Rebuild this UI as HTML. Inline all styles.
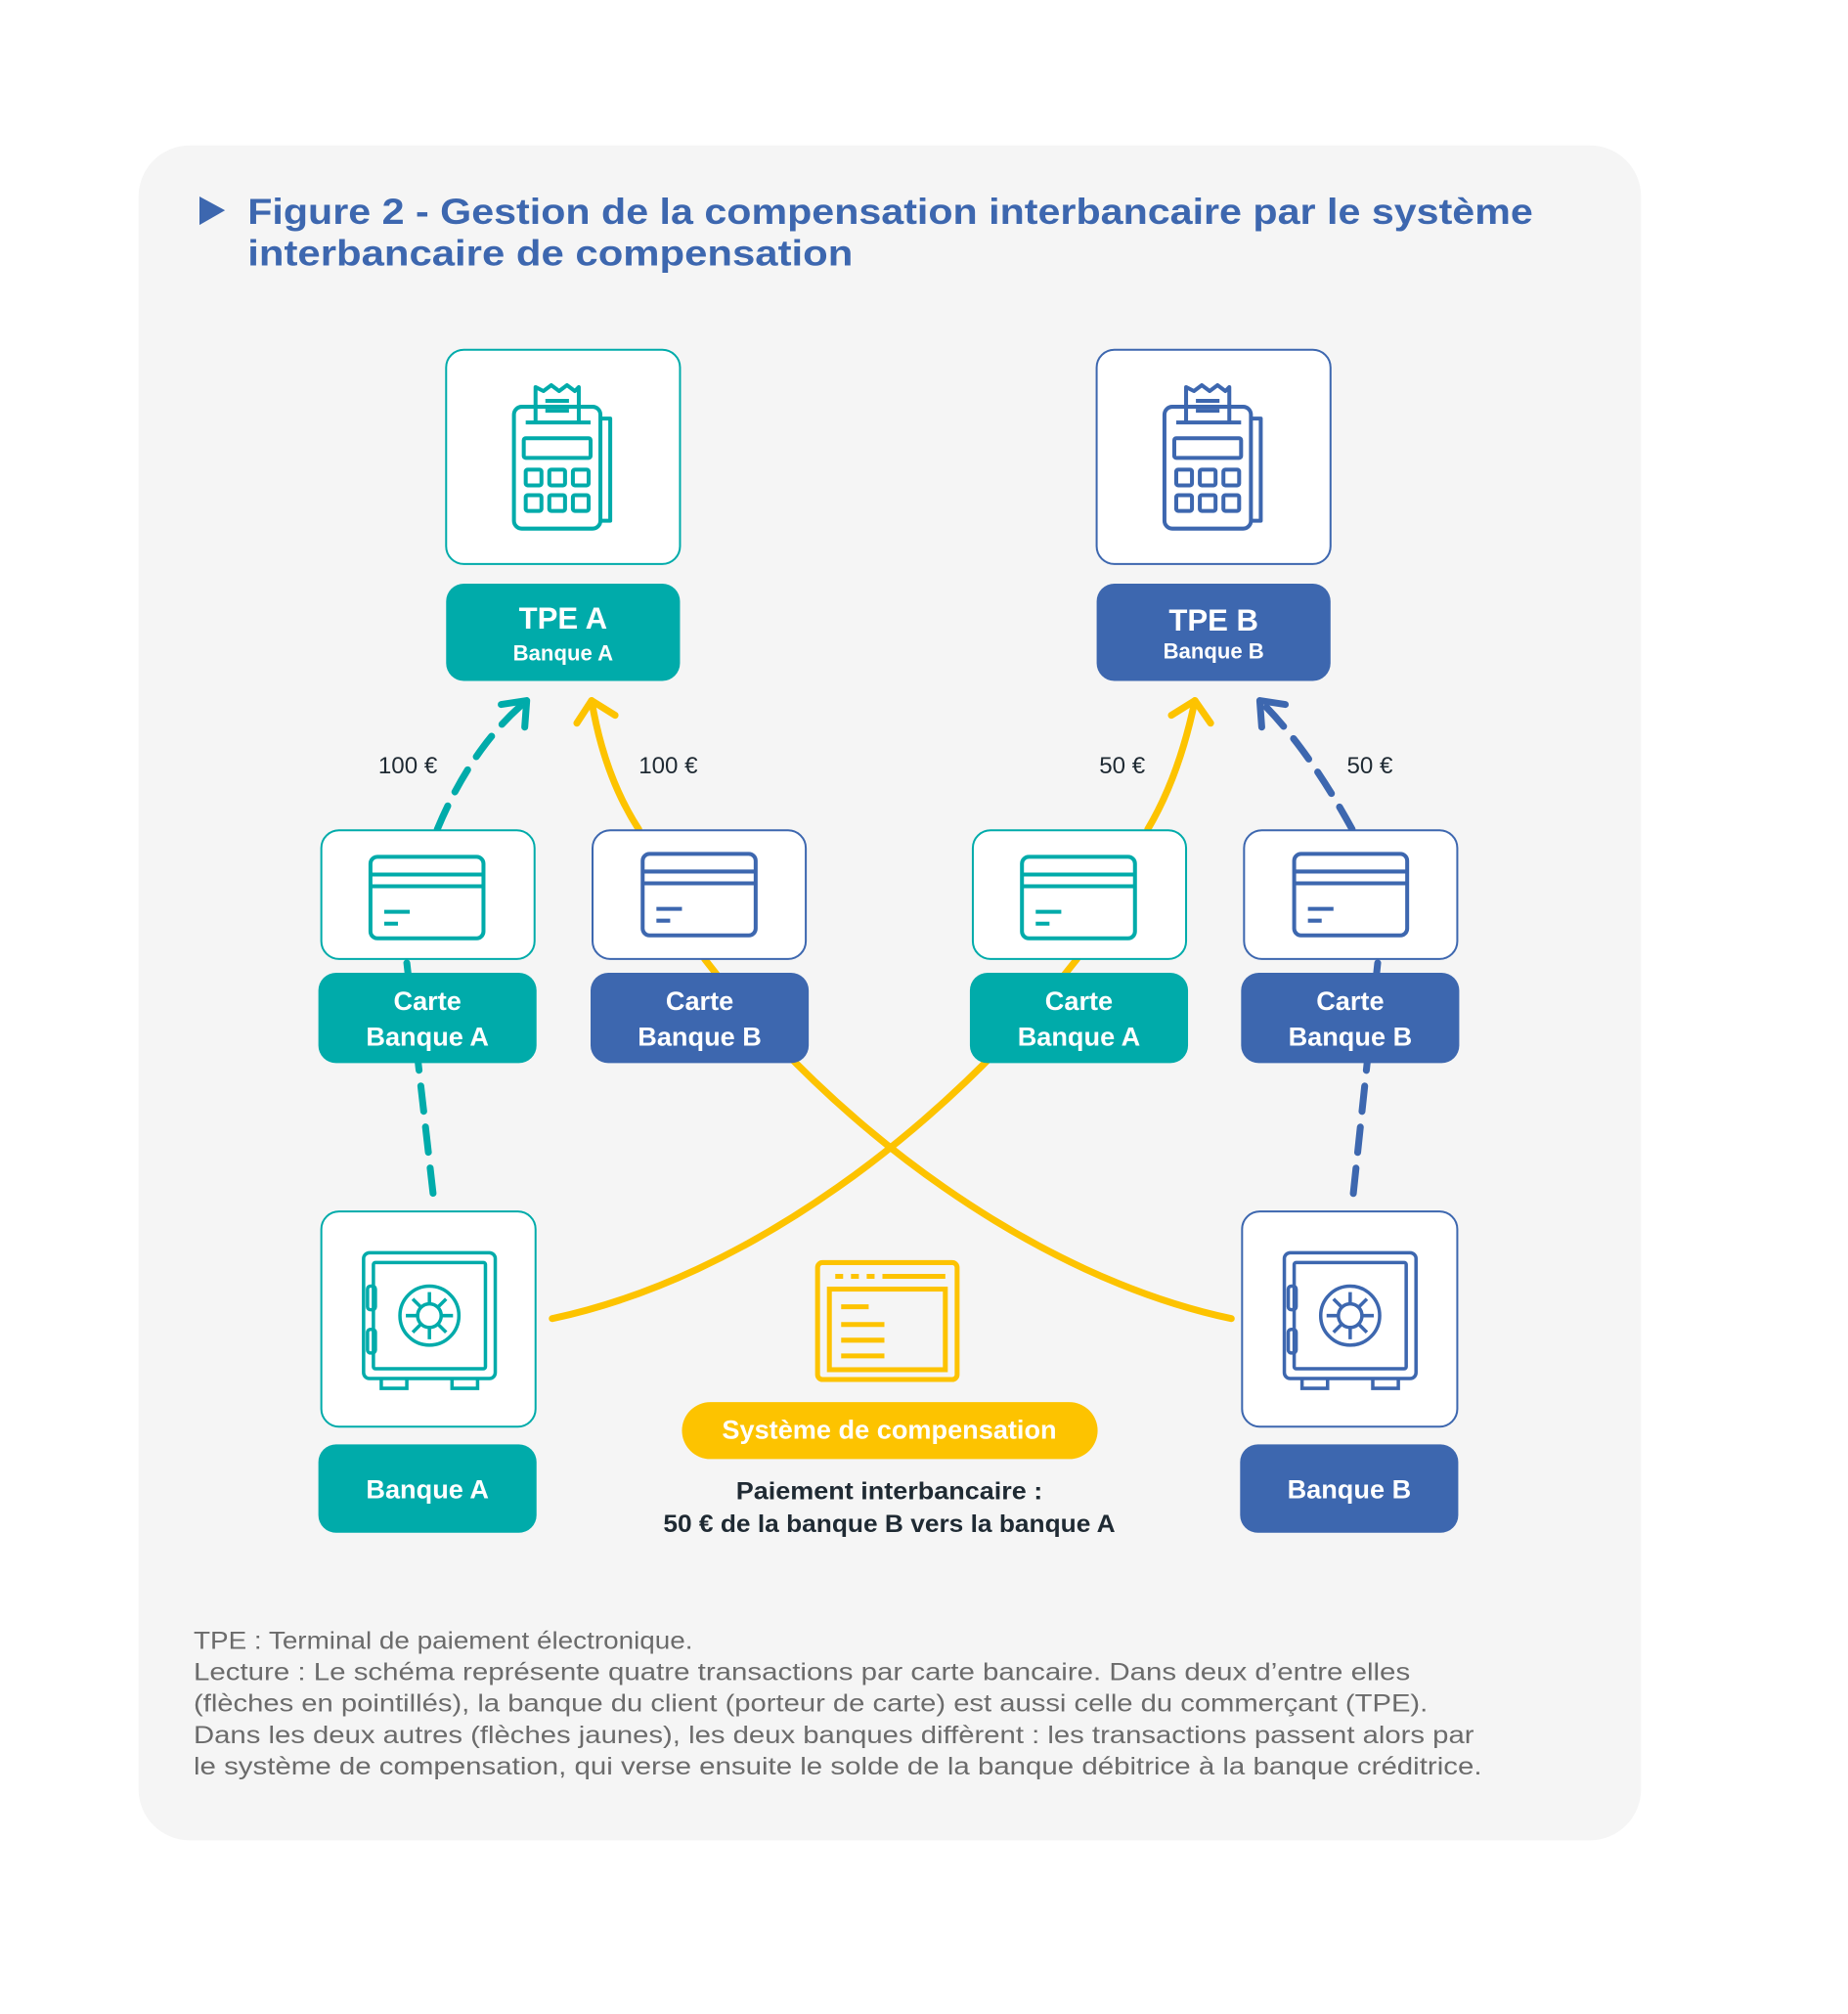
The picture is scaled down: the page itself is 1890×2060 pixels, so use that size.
<!DOCTYPE html>
<html><head><meta charset="utf-8"><style>
html,body{margin:0;padding:0;background:#fff}
svg{display:block}
text{font-family:"Liberation Sans",sans-serif}
</style></head><body>
<svg width="1890" height="2060" viewBox="0 0 1890 2060" xmlns="http://www.w3.org/2000/svg">
<defs>
<g id="term" fill="none" stroke-width="4" stroke-linejoin="round">
<rect x="0" y="24" width="88" height="124" rx="8"/>
<path d="M88 36 H98 V140 H88"/>
<rect x="10" y="56" width="68" height="20" rx="2"/>
<rect x="12" y="88" width="16" height="16" rx="2"/><rect x="36" y="88" width="16" height="16" rx="2"/><rect x="60" y="88" width="16" height="16" rx="2"/>
<rect x="12" y="114" width="16" height="16" rx="2"/><rect x="36" y="114" width="16" height="16" rx="2"/><rect x="60" y="114" width="16" height="16" rx="2"/>
<path d="M22 40 V4 L30 8 L38 2 L46 8 L54 2 L62 8 L66 4 V40"/>
<path d="M12 40 H78 M32 18 H56 M32 28 H56"/>
</g>
<g id="card" fill="none" stroke-width="4">
<rect x="0" y="0" width="115" height="83" rx="7"/>
<path d="M0 18 H115 M0 30 H115 M14 56 H40 M14 68 H28"/>
</g>
<g id="safe" fill="none" stroke-width="3.5">
<rect x="0" y="0" width="134" height="128" rx="6"/>
<rect x="10" y="10" width="114" height="108" rx="2"/>
<circle cx="67" cy="64" r="30"/><circle cx="67" cy="64" r="12"/>
<path d="M67 40 V52 M67 76 V88 M43 64 H55 M79 64 H91 M50 47 L58 55 M76 73 L84 81 M84 47 L76 55 M58 73 L50 81"/>
<rect x="4" y="34" width="8" height="24" rx="3"/><rect x="4" y="78" width="8" height="24" rx="3"/>
<path d="M18 128 V138 H44 V128 M90 128 V138 H116 V128"/>
</g>
</defs>
<g transform="scale(1.005)">
<rect x="141" y="148" width="1529" height="1725" rx="52" fill="#f5f5f5"/>
<polygon points="203,200 229,214 203,229" fill="#3d67af"/>
<text x="252" y="228" font-size="37" font-weight="bold" fill="#3d67af" textLength="1308" lengthAdjust="spacingAndGlyphs">Figure 2 - Gestion de la compensation interbancaire par le système</text>
<text x="252" y="270" font-size="37" font-weight="bold" fill="#3d67af" textLength="616" lengthAdjust="spacingAndGlyphs">interbancaire de compensation</text>

<g fill="none" stroke-width="7" stroke-linecap="round" stroke-linejoin="round">
<path d="M445 844 Q480 760 536 713" stroke="#00abaa" stroke-dasharray="26 16"/>
<polyline points="510,717 536,713 534,740" stroke="#00abaa"/>
<path d="M650 844 Q615 790 602 713" stroke="#fdc300"/>
<polyline points="587,736 602,713 626,728" stroke="#fdc300"/>
<path d="M1168 844 Q1200 790 1216 713" stroke="#fdc300"/>
<polyline points="1192,728 1216,713 1232,736" stroke="#fdc300"/>
<path d="M1376 844 Q1330 760 1282 713" stroke="#3d67af" stroke-dasharray="26 16"/>
<polyline points="1284,740 1282,713 1308,717" stroke="#3d67af"/>
<path d="M414 980 L442 1226" stroke="#00abaa" stroke-dasharray="26 16"/>
<path d="M1402 980 L1376 1226" stroke="#3d67af" stroke-dasharray="26 16"/>
<path d="M562 1342 C760 1300 960 1150 1096 976" stroke="#fdc300"/>
<path d="M1253 1342 C1055 1300 850 1150 717 976" stroke="#fdc300"/>
</g>

<rect x="454" y="356" width="238" height="218" rx="18" fill="#fff" stroke="#00abaa" stroke-width="2"/>
<rect x="1116" y="356" width="238" height="218" rx="18" fill="#fff" stroke="#3d67af" stroke-width="2"/>
<rect x="454" y="594" width="238" height="99" rx="18" fill="#00abaa"/>
<rect x="1116" y="594" width="238" height="99" rx="18" fill="#3d67af"/>
<g fill="#fff" font-weight="bold" text-anchor="middle">
<text x="573" y="640" font-size="31">TPE A</text>
<text x="573" y="672" font-size="22">Banque A</text>
<text x="1235" y="642" font-size="31">TPE B</text>
<text x="1235" y="670" font-size="22">Banque B</text>
</g>
<use href="#term" x="523" y="390" stroke="#00abaa"/>
<use href="#term" x="1185" y="390" stroke="#3d67af"/>

<rect x="327" y="845" width="217" height="131" rx="18" fill="#fff" stroke="#00abaa" stroke-width="2"/>
<rect x="603" y="845" width="217" height="131" rx="18" fill="#fff" stroke="#3d67af" stroke-width="2"/>
<rect x="990" y="845" width="217" height="131" rx="18" fill="#fff" stroke="#00abaa" stroke-width="2"/>
<rect x="1266" y="845" width="217" height="131" rx="18" fill="#fff" stroke="#3d67af" stroke-width="2"/>
<use href="#card" x="377" y="872" stroke="#00abaa"/>
<use href="#card" x="654" y="869" stroke="#3d67af"/>
<use href="#card" x="1040" y="872" stroke="#00abaa"/>
<use href="#card" x="1317" y="869" stroke="#3d67af"/>
<rect x="324" y="990" width="222" height="92" rx="18" fill="#00abaa"/>
<rect x="601" y="990" width="222" height="92" rx="18" fill="#3d67af"/>
<rect x="987" y="990" width="222" height="92" rx="18" fill="#00abaa"/>
<rect x="1263" y="990" width="222" height="92" rx="18" fill="#3d67af"/>
<g fill="#fff" font-weight="bold" text-anchor="middle" font-size="27">
<text x="435" y="1028">Carte</text><text x="435" y="1064">Banque A</text>
<text x="712" y="1028">Carte</text><text x="712" y="1064">Banque B</text>
<text x="1098" y="1028">Carte</text><text x="1098" y="1064">Banque A</text>
<text x="1374" y="1028">Carte</text><text x="1374" y="1064">Banque B</text>
</g>
<g font-size="24" fill="#1f2a33" text-anchor="middle">
<text x="415" y="787">100 €</text><text x="680" y="787">100 €</text>
<text x="1142" y="787">50 €</text><text x="1394" y="787">50 €</text>
</g>

<rect x="327" y="1233" width="218" height="219" rx="18" fill="#fff" stroke="#00abaa" stroke-width="2"/>
<rect x="1264" y="1233" width="219" height="219" rx="18" fill="#fff" stroke="#3d67af" stroke-width="2"/>
<use href="#safe" x="370" y="1275" stroke="#00abaa"/>
<use href="#safe" x="1307" y="1275" stroke="#3d67af"/>
<rect x="324" y="1470" width="222" height="90" rx="18" fill="#00abaa"/>
<rect x="1262" y="1470" width="222" height="90" rx="18" fill="#3d67af"/>
<g fill="#fff" font-weight="bold" text-anchor="middle" font-size="27">
<text x="435" y="1525">Banque A</text><text x="1373" y="1525">Banque B</text>
</g>

<g fill="none" stroke="#fdc300" stroke-width="5">
<rect x="832" y="1285" width="142" height="119" rx="5"/>
<rect x="844" y="1312" width="118" height="82"/>
<path d="M850 1299 H858 M866 1299 H874 M882 1299 H890 M898 1299 H962 M856 1330 H884 M856 1348 H900 M856 1364 H900 M856 1380 H900"/>
</g>
<rect x="694" y="1427" width="423" height="58" rx="29" fill="#fdc300"/>
<text x="905" y="1464" font-size="27" font-weight="bold" fill="#fff" text-anchor="middle">Système de compensation</text>
<g font-size="25" fill="#1f2a33" font-weight="bold" text-anchor="middle">
<text x="905" y="1526" textLength="312" lengthAdjust="spacingAndGlyphs">Paiement interbancaire :</text>
<text x="905" y="1559" textLength="460" lengthAdjust="spacingAndGlyphs">50 € de la banque B vers la banque A</text>
</g>

<g font-size="25" fill="#6b6b6b">
<text x="197" y="1678" textLength="508" lengthAdjust="spacingAndGlyphs">TPE : Terminal de paiement électronique.</text>
<text x="197" y="1710" textLength="1238" lengthAdjust="spacingAndGlyphs">Lecture : Le schéma représente quatre transactions par carte bancaire. Dans deux d’entre elles</text>
<text x="197" y="1742" textLength="1256" lengthAdjust="spacingAndGlyphs">(flèches en pointillés), la banque du client (porteur de carte) est aussi celle du commerçant (TPE).</text>
<text x="197" y="1774" textLength="1303" lengthAdjust="spacingAndGlyphs">Dans les deux autres (flèches jaunes), les deux banques diffèrent : les transactions passent alors par</text>
<text x="197" y="1806" textLength="1311" lengthAdjust="spacingAndGlyphs">le système de compensation, qui verse ensuite le solde de la banque débitrice à la banque créditrice.</text>
</g>
</g>
</svg>
</body></html>
